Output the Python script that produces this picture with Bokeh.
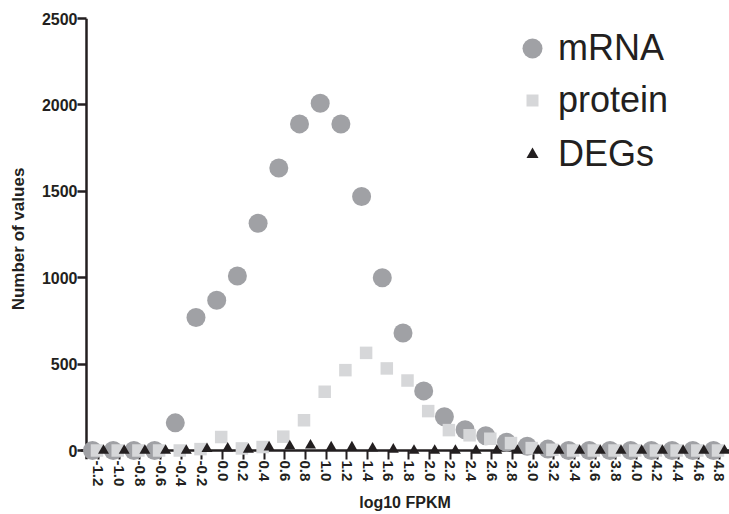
from bokeh.plotting import figure
from bokeh.models import (Range1d, FixedTicker, Span, Legend, LegendItem,
                          ColumnDataSource, NumeralTickFormatter)
from bokeh.transform import dodge
from bokeh.embed import file_html
from bokeh.resources import INLINE

# ---- data ----
log10_fpkm = [-1.2, -1.0, -0.8, -0.6, -0.4, -0.2, 0.0, 0.2, 0.4, 0.6, 0.8,
              1.0, 1.2, 1.4, 1.6, 1.8, 2.0, 2.2, 2.4, 2.6, 2.8, 3.0, 3.2,
              3.4, 3.6, 3.8, 4.0, 4.2, 4.4, 4.6, 4.8]
x_tick_labels = ["-1.2", "-1.0", "-0.8", "-0.6", "-0.4", "-0.2", "0.0", "0.2",
                 "0.4", "0.6", "0.8", "1.0", "1.2", "1.4", "1.6", "1.8", "2.0",
                 "2.2", "2.4", "2.6", "2.8", "3.0", "3.2", "3.4", "3.6", "3.8",
                 "4.0", "4.2", "4.4", "4.6", "4.8"]
mrna = [0, 0, 0, 0, 160, 770, 870, 1010, 1315, 1635, 1890, 2010, 1890, 1470,
        1000, 680, 345, 195, 120, 85, 48, 25, 8, 0, 0, 0, 0, 0, 0, 0, 0]
protein = [0, 0, 0, 0, 0, 8, 78, 12, 20, 80, 175, 340, 465, 565, 475, 405,
           228, 118, 88, 68, 43, 14, 4, 0, 0, 0, 0, 0, 0, 0, 0]
degs = [0, 0, 0, 0, 0, 10, 13, 6, 19, 25, 30, 19, 19, 13, 6, 0, 0, 0, 0, 0,
        0, 0, 0, 0, 0, 0, 0, 0, 0, 0, 0]
y_ticks = [0, 500, 1000, 1500, 2000, 2500]
series_names = ["mRNA", "protein", "DEGs"]

INK = "#231f20"
C_MRNA = "#a0a1a5"
C_PROT = "#d6d7d9"
C_DEG = "#231f20"
FONT = "Liberation Sans"

Y_AXIS_AT = -1.31594   # x position of the drawn y-axis line

p = figure(width=729, height=514, output_backend="svg", toolbar_location=None,
           x_range=Range1d(-1.37391, 4.89662), y_range=Range1d(-52.08, 2500),
           min_border_left=80, min_border_right=0, min_border_top=18,
           min_border_bottom=55)
p.outline_line_color = None
p.grid.visible = False
p.background_fill_color = "white"
p.border_fill_color = "white"

# axis lines drawn at the data origin, beneath the markers
p.add_layout(Span(location=0, dimension="width", line_color=INK,
                  line_width=2.5, level="underlay"))
p.add_layout(Span(location=Y_AXIS_AT, dimension="height", line_color=INK,
                  line_width=2.5, level="underlay"))

# x axis
xa = p.xaxis[0]
xa.ticker = FixedTicker(ticks=log10_fpkm, minor_ticks=[])
xa.formatter = NumeralTickFormatter(format="0.0")
xa.major_label_overrides = {v: s for v, s in zip(log10_fpkm, x_tick_labels)}
xa.major_label_orientation = "vertical"
xa.axis_line_color = None
xa.major_tick_in = 9
xa.major_tick_out = 0
xa.major_tick_line_width = 2
xa.major_tick_line_color = INK
xa.minor_tick_line_color = None
xa.major_label_standoff = 1
xa.major_label_text_font = FONT
xa.major_label_text_font_style = "bold"
xa.major_label_text_font_size = "15px"
xa.major_label_text_color = INK
xa.axis_label = "log10 FPKM"
xa.axis_label_text_font = FONT
xa.axis_label_text_font_style = "bold"
xa.axis_label_text_font_size = "16px"
xa.axis_label_text_color = INK
xa.axis_label_standoff = 5

# y axis
ya = p.yaxis[0]
ya.ticker = FixedTicker(ticks=y_ticks, minor_ticks=[])
ya.axis_line_color = None
ya.major_tick_in = 6
ya.major_tick_out = 3
ya.major_tick_line_width = 2.5
ya.major_tick_line_color = INK
ya.minor_tick_line_color = None
ya.major_label_standoff = 0
ya.major_label_text_font = FONT
ya.major_label_text_font_style = "bold"
ya.major_label_text_font_size = "16px"
ya.major_label_text_color = INK
ya.axis_label = "Number of values"
ya.axis_label_text_font = FONT
ya.axis_label_text_font_style = "bold"
ya.axis_label_text_font_size = "17px"
ya.axis_label_text_color = INK
ya.axis_label_standoff = 11

src = ColumnDataSource(dict(x=log10_fpkm, mrna=mrna, protein=protein, degs=degs))

r_mrna = p.scatter(x=dodge("x", -0.058), y="mrna", source=src, marker="circle",
                   size=19, fill_color=C_MRNA, line_color=None, level="overlay")
r_prot = p.scatter(x=dodge("x", -0.0145), y="protein", source=src, marker="square",
                   size=12.5, fill_color=C_PROT, line_color=None, level="overlay")
r_deg = p.scatter(x=dodge("x", 0.0483), y="degs", source=src, marker="triangle",
                  size=11, fill_color=C_DEG, line_color=None, level="overlay")

# legend: one block per series so that each marker keeps its own size
legend_specs = [
    (r_mrna, series_names[0], 50, 1, (427, 386)),
    (r_prot, series_names[1], 30, 11, (437, 334)),
    (r_deg, series_names[2], 30, 11, (437, 280)),
]
for rend, lab, gw, stand, loc in legend_specs:
    lg = Legend(items=[LegendItem(label=lab, renderers=[rend])], location=loc,
                glyph_width=gw, glyph_height=50, label_standoff=stand,
                padding=0, margin=0, spacing=0, border_line_color=None,
                background_fill_alpha=0, label_text_font=FONT,
                label_text_font_size="36px", label_text_color=INK)
    p.add_layout(lg)

open("out.html", "w").write(file_html(p, INLINE))
